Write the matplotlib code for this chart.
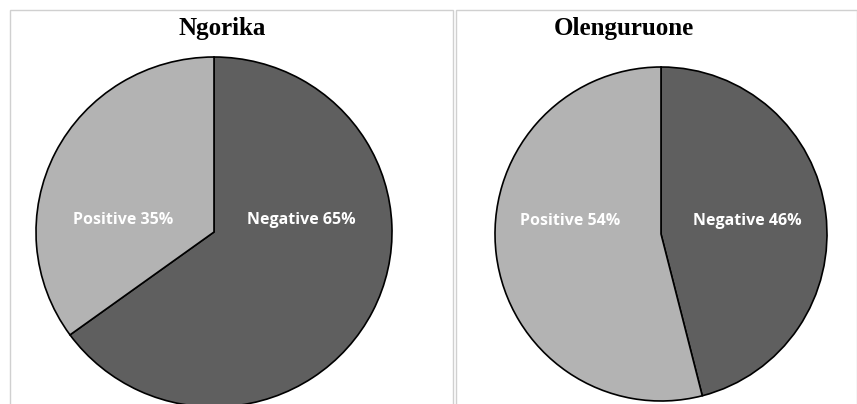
import matplotlib.pyplot as plt
from matplotlib.patches import Rectangle

# data
sites = ['Ngorika', 'Olenguruone']
categories = ['Negative', 'Positive']
negative = [65, 46]
positive = [35, 54]

colors = ['#5f5f5f', '#b3b3b3']

W, H = 857, 404
fig = plt.figure(figsize=(W / 100, H / 100), dpi=100)


def px_box(x0, y0, x1, y1):
    # pixel box (top-down) -> figure fraction [left, bottom, width, height]
    return [x0 / W, 1 - y1 / H, (x1 - x0) / W, (y1 - y0) / H]


# panel frames
for x0, x1 in [(9.5, 452.5), (455.5, 856.5)]:
    fig.patches.append(Rectangle((x0 / W, -0.1), (x1 - x0) / W, 1 - 9.5 / H + 0.1,
                                 transform=fig.transFigure, fill=False,
                                 edgecolor='#d0d0d0', linewidth=1.0))

pie_boxes = [px_box(36, 57, 392, 407), px_box(495, 67, 827, 401)]
title_pos = [(222, 29), (624, 28)]
label_off = [(0.49, 0.07, -0.51, 0.07), (0.52, 0.08, -0.55, 0.08)]

for i, site in enumerate(sites):
    ax = fig.add_axes(pie_boxes[i])
    vals = [negative[i], positive[i]]
    ax.pie(vals, colors=colors, startangle=90, counterclock=False,
           wedgeprops=dict(edgecolor='black', linewidth=1.2), radius=1)
    ax.set_aspect('auto')
    ax.set_xlim(-1, 1)
    ax.set_ylim(-1, 1)
    ax.axis('off')
    nx, ny, px, py = label_off[i]
    ax.text(nx, ny, f'{categories[0]} {vals[0]}%', color='white', fontsize=11.5,
            fontweight='bold', family='Open Sans', ha='center', va='center')
    ax.text(px, py, f'{categories[1]} {vals[1]}%', color='white', fontsize=11.5,
            fontweight='bold', family='Open Sans', ha='center', va='center')
    tx, ty = title_pos[i]
    fig.text(tx / W, 1 - ty / H, site, fontsize=18, fontweight='bold',
             family='Liberation Serif', ha='center', va='center')

fig.savefig('out.png', dpi=100)
